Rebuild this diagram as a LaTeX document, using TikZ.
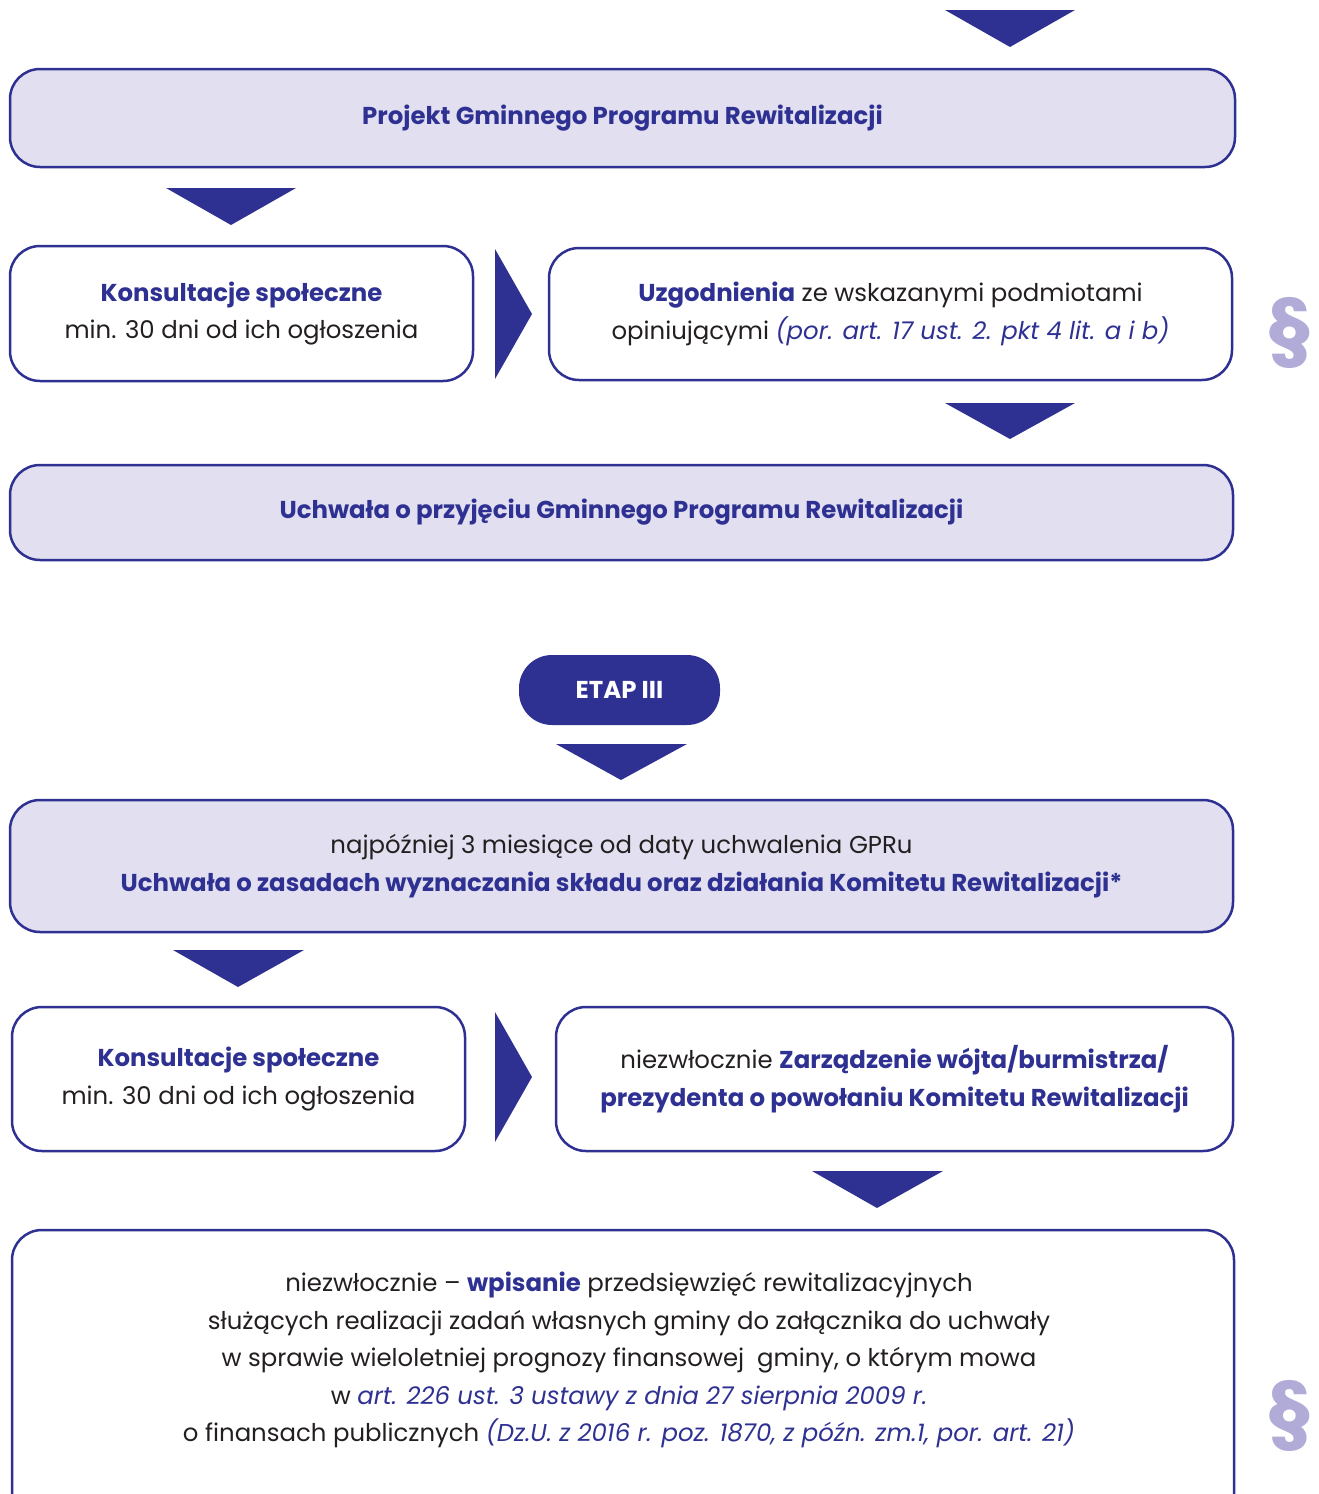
\documentclass[tikz,border=0pt]{standalone}
\usepackage{fontspec}
\setmainfont{Poppins}
\definecolor{navy}{HTML}{2E3192}
\definecolor{lav}{HTML}{E1DFF0}
\definecolor{ink}{HTML}{231F20}
\definecolor{para}{HTML}{B1ACD7}
\newcommand{\hb}[1]{\textbf{\textcolor{navy}{#1}}}
\newcommand{\hi}[1]{\textit{\textcolor{navy}{#1}}}
\tikzset{
  box/.style={draw=navy, line width=2.5pt, rounded corners=30pt, inner sep=0pt, align=center, text=ink, font=\fontsize{24.4}{37.5}\selectfont},
  lavbox/.style={box, fill=lav},
  whitebox/.style={box, fill=white},
  txt/.style={align=center, text=ink, inner sep=0pt, font=\fontsize{24.4}{37.5}\selectfont},
  parag/.style={text=para, inner sep=0pt, font=\fontsize{76}{76}\selectfont\bfseries}
}
\begin{document}
\begin{tikzpicture}[x=1pt,y=-1pt]
\useasboundingbox (0,0) rectangle (1318,1494);
\clip (0,0) rectangle (1318,1494);
% top arrow
\fill[navy] (945,10) -- (1075,10) -- (1010,47) -- cycle;
\node[lavbox, minimum width=1225pt, minimum height=98pt] (b1) at (622.5,118) {\hb{Projekt Gminnego Programu Rewitalizacji}};
\fill[navy] (166,188) -- (296,188) -- (231,225) -- cycle;
\node[whitebox, minimum width=463pt, minimum height=135pt] (b2a) at (241.5,313.5) {\hb{Konsultacje społeczne}\\min. 30 dni od ich ogłoszenia};
\fill[navy] (495,249) -- (532,314) -- (495,379) -- cycle;
\node[whitebox, minimum width=683pt, minimum height=132pt] (b2b) at (890.5,314) {\hb{Uzgodnienia} ze wskazanymi podmiotami\\opiniującymi \hi{(por. art. 17 ust. 2. pkt 4 lit. a i b)}};
\node[parag] (p1) at (1290,333) {§};
\fill[navy] (945,403) -- (1075,403) -- (1010,439) -- cycle;
\node[lavbox, minimum width=1223pt, minimum height=95pt] (b3) at (621.5,512.5) {\hb{Uchwała o przyjęciu Gminnego Programu Rewitalizacji}};
\node[fill=navy, rounded corners=33pt, minimum width=201pt, minimum height=70pt, inner sep=0pt, text=white, font=\fontsize{24.4}{28}\selectfont\bfseries] (etap) at (619.5,690) {ETAP III};
\fill[navy] (556,744) -- (687,744) -- (621,780) -- cycle;
\node[lavbox, minimum width=1223pt, minimum height=132pt] (b4) at (621.5,866) {najpóźniej 3 miesiące od daty uchwalenia GPRu\\\hb{Uchwała o zasadach wyznaczania składu oraz działania Komitetu Rewitalizacji*}};
\fill[navy] (173,950) -- (304,950) -- (238,987) -- cycle;
\node[whitebox, minimum width=453pt, minimum height=144pt] (b5a) at (238.5,1079) {\hb{Konsultacje społeczne}\\min. 30 dni od ich ogłoszenia};
\fill[navy] (495,1012) -- (532,1077) -- (495,1142) -- cycle;
\node[whitebox, minimum width=677pt, minimum height=144pt] (b5b) at (894.5,1079) {niezwłocznie \hb{Zarządzenie wójta/burmistrza/}\\\hb{prezydenta o powołaniu Komitetu Rewitalizacji}};
\fill[navy] (812,1171) -- (943,1171) -- (877,1208) -- cycle;
\node[whitebox, minimum width=1222pt, minimum height=310pt] (b6) at (623,1385) {};
\node[txt] (t6) at (629,1360) {niezwłocznie – \hb{wpisanie} przedsięwzięć rewitalizacyjnych\\służących realizacji zadań własnych gminy do załącznika do uchwały\\w sprawie wieloletniej prognozy finansowej \ gminy, o którym mowa\\w \hi{art. 226 ust. 3 ustawy z dnia 27 sierpnia 2009 r.}\\o finansach publicznych \hi{(Dz.U. z 2016 r. poz. 1870, z późn. zm.1, por. art. 21)}};
\node[parag] (p2) at (1290,1416) {§};
\end{tikzpicture}
\end{document}
